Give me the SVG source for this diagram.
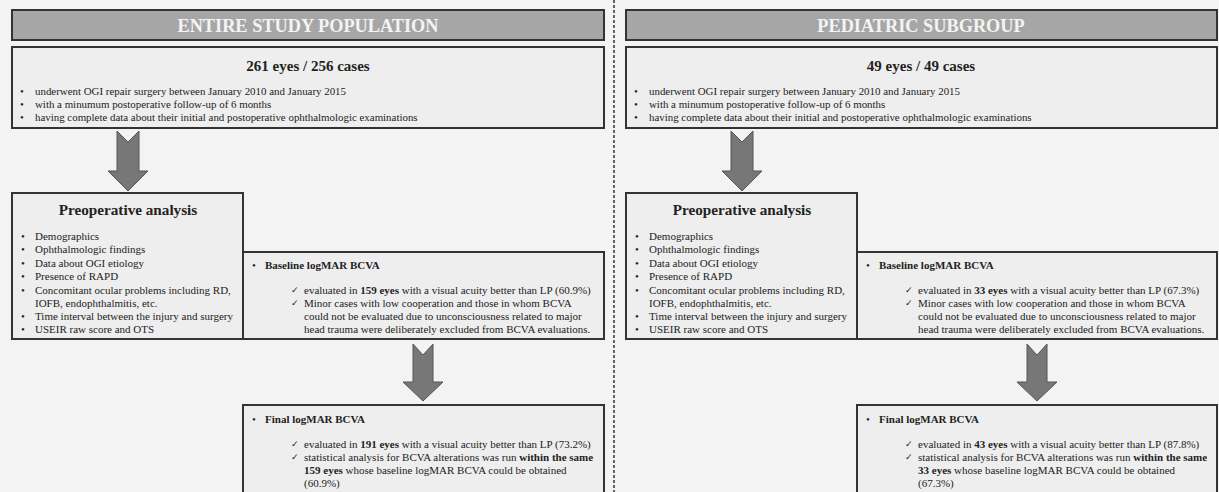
<svg xmlns="http://www.w3.org/2000/svg" width="1219" height="492" viewBox="0 0 1219 492">
<style>
text{font-family:"Liberation Serif","Times New Roman",serif;fill:#222}
.hdr{fill:#a6a6a6;stroke:#333;stroke-width:2}
.box{fill:#eeeeee;stroke:#333;stroke-width:2}
.ht{font-size:18.3px;font-weight:bold;fill:#f4f4f4;text-anchor:middle}
.bt{font-size:15px;font-weight:bold;text-anchor:middle}
.pt{font-size:15.2px;font-weight:bold;text-anchor:middle}
.s{font-size:10.9px}
.l{font-size:11px}
.m{font-size:11px}
.b{font-weight:bold}
.ck{font-family:"DejaVu Sans",sans-serif;font-size:9px}
.arr{fill:#777;stroke:#555;stroke-width:1}
</style>
<rect width="1219" height="492" fill="#f3f3f3"/>
<g id="connectors">
<line x1="614" y1="0" x2="614" y2="492" stroke="#333" stroke-width="1.5" stroke-dasharray="3,2"/>
<path class="arr" d="M117,131 L128,142 L139,131 L139,171 L148,171 L128,191 L108,171 L117,171 Z"/>
<path class="arr" d="M413,344 L423,355 L433,344 L433,382 L443,382 L423,401 L403,382 L413,382 Z"/>
<path class="arr" d="M731,131 L742,142 L753,131 L753,171 L762,171 L742,191 L722,171 L731,171 Z"/>
<path class="arr" d="M1027,344 L1037,355 L1047,344 L1047,382 L1057,382 L1037,401 L1017,382 L1027,382 Z"/>
</g>
<g id="left-header">
<rect class="hdr" x="12" y="10" width="592" height="30"/>
<text class="ht" x="308" y="32">ENTIRE STUDY POPULATION</text>
</g>
<g id="left-cases">
<rect class="box" x="12" y="47" width="592" height="81"/>
<text class="bt" x="308" y="71">261 eyes / 256 cases</text>
<text class="s" x="20" y="95">•</text><text class="s" x="35" y="95">underwent OGI repair surgery between January 2010 and January 2015</text>
<text class="s" x="20" y="108">•</text><text class="s" x="35" y="108">with a minumum postoperative follow-up of 6 months</text>
<text class="s" x="20" y="121">•</text><text class="s" x="35" y="121">having complete data about their initial and postoperative ophthalmologic examinations</text>
</g>
<g id="left-preop">
<rect class="box" x="12" y="193" width="231" height="146"/>
<text class="pt" x="128" y="215">Preoperative analysis</text>
<g class="l">
<text x="21" y="240">•</text><text x="35" y="240">Demographics</text>
<text x="21" y="253">•</text><text x="35" y="253">Ophthalmologic findings</text>
<text x="21" y="267">•</text><text x="35" y="267">Data about OGI etiology</text>
<text x="21" y="280">•</text><text x="35" y="280">Presence of RAPD</text>
<text x="21" y="294">•</text><text x="35" y="294">Concomitant ocular problems including RD,</text>
<text x="35" y="307">IOFB, endophthalmitis, etc.</text>
<text x="21" y="320">•</text><text x="35" y="320">Time interval between the injury and surgery</text>
<text x="21" y="333">•</text><text x="35" y="333">USEIR raw score and OTS</text>
</g>
</g>
<g id="left-baseline">
<rect class="box" x="243" y="252" width="361" height="87"/>
<text class="m" x="252" y="269">•</text><text class="m b" x="265" y="269">Baseline logMAR BCVA</text>
<text class="ck" x="291" y="293">✓</text><text class="m" x="304" y="294">evaluated in <tspan class="b">159 eyes</tspan> with a visual acuity better than LP (60.9%)</text>
<text class="ck" x="291" y="306">✓</text><text class="m" x="304" y="307">Minor cases with low cooperation and those in whom BCVA</text>
<text class="m" x="304" y="320">could not be evaluated due to unconsciousness related to major</text>
<text class="m" x="304" y="333">head trauma were deliberately excluded from BCVA evaluations.</text>
</g>
<g id="left-final">
<rect class="box" x="243" y="405" width="361" height="92"/>
<text class="m" x="252" y="423">•</text><text class="m b" x="265" y="423">Final logMAR BCVA</text>
<text class="ck" x="291" y="447">✓</text><text class="m" x="304" y="448">evaluated in <tspan class="b">191 eyes</tspan> with a visual acuity better than LP (73.2%)</text>
<text class="ck" x="291" y="460">✓</text><text class="m" x="304" y="461">statistical analysis for BCVA alterations was run <tspan class="b">within the same</tspan></text>
<text class="m" x="304" y="474"><tspan class="b">159 eyes</tspan> whose baseline logMAR BCVA could be obtained</text>
<text class="m" x="304" y="487">(60.9%)</text>
</g>
<g id="right-header">
<rect class="hdr" x="626" y="10" width="591" height="30"/>
<text class="ht" x="921" y="32">PEDIATRIC SUBGROUP</text>
</g>
<g id="right-cases">
<rect class="box" x="626" y="47" width="591" height="81"/>
<text class="bt" x="921" y="71">49 eyes / 49 cases</text>
<text class="s" x="634" y="95">•</text><text class="s" x="649" y="95">underwent OGI repair surgery between January 2010 and January 2015</text>
<text class="s" x="634" y="108">•</text><text class="s" x="649" y="108">with a minumum postoperative follow-up of 6 months</text>
<text class="s" x="634" y="121">•</text><text class="s" x="649" y="121">having complete data about their initial and postoperative ophthalmologic examinations</text>
</g>
<g id="right-preop">
<rect class="box" x="626" y="193" width="231" height="146"/>
<text class="pt" x="742" y="215">Preoperative analysis</text>
<g class="l">
<text x="635" y="240">•</text><text x="649" y="240">Demographics</text>
<text x="635" y="253">•</text><text x="649" y="253">Ophthalmologic findings</text>
<text x="635" y="267">•</text><text x="649" y="267">Data about OGI etiology</text>
<text x="635" y="280">•</text><text x="649" y="280">Presence of RAPD</text>
<text x="635" y="294">•</text><text x="649" y="294">Concomitant ocular problems including RD,</text>
<text x="649" y="307">IOFB, endophthalmitis, etc.</text>
<text x="635" y="320">•</text><text x="649" y="320">Time interval between the injury and surgery</text>
<text x="635" y="333">•</text><text x="649" y="333">USEIR raw score and OTS</text>
</g>
</g>
<g id="right-baseline">
<rect class="box" x="857" y="252" width="360" height="87"/>
<text class="m" x="866" y="269">•</text><text class="m b" x="879" y="269">Baseline logMAR BCVA</text>
<text class="ck" x="905" y="293">✓</text><text class="m" x="918" y="294">evaluated in <tspan class="b">33 eyes</tspan> with a visual acuity better than LP (67.3%)</text>
<text class="ck" x="905" y="306">✓</text><text class="m" x="918" y="307">Minor cases with low cooperation and those in whom BCVA</text>
<text class="m" x="918" y="320">could not be evaluated due to unconsciousness related to major</text>
<text class="m" x="918" y="333">head trauma were deliberately excluded from BCVA evaluations.</text>
</g>
<g id="right-final">
<rect class="box" x="857" y="405" width="360" height="92"/>
<text class="m" x="866" y="423">•</text><text class="m b" x="879" y="423">Final logMAR BCVA</text>
<text class="ck" x="905" y="447">✓</text><text class="m" x="918" y="448">evaluated in <tspan class="b">43 eyes</tspan> with a visual acuity better than LP (87.8%)</text>
<text class="ck" x="905" y="460">✓</text><text class="m" x="918" y="461">statistical analysis for BCVA alterations was run <tspan class="b">within the same</tspan></text>
<text class="m" x="918" y="474"><tspan class="b">33 eyes</tspan> whose baseline logMAR BCVA could be obtained</text>
<text class="m" x="918" y="487">(67.3%)</text>
</g>
</svg>
